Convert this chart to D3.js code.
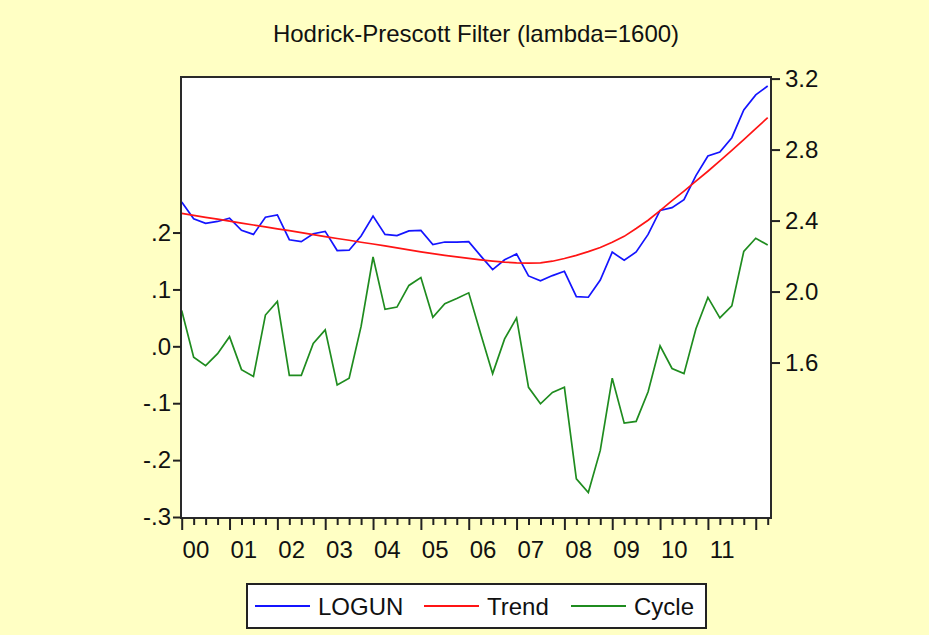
<!DOCTYPE html>
<html>
<head>
<meta charset="utf-8">
<script src="https://cdn.jsdelivr.net/npm/d3@7"></script>
<style>
  html, body { margin: 0; padding: 0; background: #FFFFC4; }
  svg { display: block; }
  text { font-family: Arial, "Liberation Sans", sans-serif; fill: #111; }
</style>
</head>
<body>
<svg id="chart" width="929" height="635"></svg>
<script>
// Quarterly sample 2000Q1 .. 2012Q2
const periods = [];
for (let y = 2000; y <= 2012; y++) {
  for (let q = 1; q <= 4; q++) {
    if (y === 2012 && q > 2) break;
    periods.push(y + "Q" + q);
  }
}

const yearLabels = ["00","01","02","03","04","05","06","07","08","09","10","11"];

// log unemployment (right axis)
const logun = [
  2.504, 2.410, 2.384, 2.395, 2.414, 2.345, 2.322, 2.419, 2.432, 2.292,
  2.281, 2.326, 2.339, 2.231, 2.233, 2.313, 2.425, 2.322, 2.315, 2.342,
  2.345, 2.265, 2.279, 2.279, 2.281, 2.201, 2.124, 2.179, 2.212, 2.088,
  2.061, 2.090, 2.114, 1.971, 1.968, 2.065, 2.222, 2.176, 2.223, 2.322,
  2.457, 2.473, 2.518, 2.653, 2.764, 2.786, 2.867, 3.023, 3.108, 3.158
];

// HP trend (right axis)
const trend = [
  2.441, 2.429, 2.418, 2.408, 2.397, 2.386, 2.375, 2.364, 2.353, 2.343,
  2.332, 2.321, 2.310, 2.299, 2.289, 2.278, 2.268, 2.257, 2.246, 2.235,
  2.224, 2.214, 2.204, 2.195, 2.187, 2.179, 2.172, 2.166, 2.162, 2.160,
  2.162, 2.171, 2.186, 2.204, 2.225, 2.248, 2.278, 2.311, 2.355, 2.402,
  2.456, 2.512, 2.566, 2.622, 2.678, 2.736, 2.796, 2.856, 2.918, 2.980
];

// Cyclical component (left axis)
const cycle = [
  0.063, -0.019, -0.034, -0.013, 0.017, -0.041, -0.053, 0.055, 0.079, -0.051,
  -0.051, 0.005, 0.029, -0.068, -0.056, 0.035, 0.157, 0.065, 0.069, 0.107,
  0.121, 0.051, 0.075, 0.084, 0.094, 0.022, -0.048, 0.013, 0.050, -0.072,
  -0.101, -0.081, -0.072, -0.233, -0.257, -0.183, -0.056, -0.135, -0.132, -0.080,
  0.001, -0.039, -0.048, 0.031, 0.086, 0.050, 0.071, 0.167, 0.190, 0.178
];

const leftTicks = [0.2, 0.1, 0.0, -0.1, -0.2, -0.3];
const leftTickLabels = [".2", ".1", ".0", "-.1", "-.2", "-.3"];
const rightTicks = [1.6, 2.0, 2.4, 2.8, 3.2];
const rightTickLabels = ["1.6", "2.0", "2.4", "2.8", "3.2"];

const seriesNames = ["LOGUN", "Trend", "Cycle"];
const seriesColors = ["#1414ff", "#ff1414", "#1f8c1f"];

const svg = d3.select("#chart");
const box = { left: 181, right: 771, top: 77, bottom: 518 };
const FS = 24;

// background
svg.append("rect").attr("width", 929).attr("height", 635).attr("fill", "#FFFFC4");

// title
svg.append("text")
  .attr("x", (box.left + box.right) / 2)
  .attr("y", 42)
  .attr("text-anchor", "middle")
  .style("font-size", FS + "px")
  .text("Hodrick-Prescott Filter (lambda=1600)");

// plot area
svg.append("rect")
  .attr("x", box.left).attr("y", box.top)
  .attr("width", box.right - box.left).attr("height", box.bottom - box.top)
  .attr("fill", "#ffffff");

const x = d3.scaleLinear().domain([0, periods.length - 1]).range([181.7, 767.7]);
const yL = d3.scaleLinear().domain([-0.3, 0.4734]).range([517, 77]);
const yR = d3.scaleLinear().domain([0.724, 3.209]).range([518, 77]);

const plot = svg.append("g");
const lineR = d3.line().x((d, i) => x(i)).y(d => yR(d));
const lineL = d3.line().x((d, i) => x(i)).y(d => yL(d));

[[logun, lineR, 0], [trend, lineR, 1], [cycle, lineL, 2]].forEach(([data, gen, k]) => {
  plot.append("path")
    .datum(data)
    .attr("fill", "none")
    .attr("stroke", seriesColors[k])
    .attr("stroke-width", 1.7)
    .attr("stroke-linejoin", "miter")
    .attr("d", gen);
});

// frame
svg.append("rect")
  .attr("x", box.left).attr("y", box.top)
  .attr("width", box.right - box.left).attr("height", box.bottom - box.top)
  .attr("fill", "none").attr("stroke", "#2a2a2a").attr("stroke-width", 2);

function styleAxis(g) {
  g.select(".domain").remove();
  g.selectAll(".tick line").attr("stroke", "#222").attr("stroke-width", 2);
  g.selectAll(".tick text").style("font-size", FS + "px").attr("fill", "#111")
    .style("font-family", 'Arial, "Liberation Sans", sans-serif');
}

// left axis (cycle)
svg.append("g")
  .attr("transform", `translate(${box.left},0)`)
  .call(d3.axisLeft(yL).tickValues(leftTicks)
    .tickFormat((d, i) => leftTickLabels[i]).tickSize(8).tickPadding(2))
  .call(styleAxis);

// right axis (levels)
svg.append("g")
  .attr("transform", `translate(${box.right},0)`)
  .call(d3.axisRight(yR).tickValues(rightTicks)
    .tickFormat((d, i) => rightTickLabels[i]).tickSize(9).tickPadding(5))
  .call(styleAxis);

// bottom axis: quarterly minor ticks, yearly major ticks, year labels
const idx = d3.range(periods.length);
svg.append("g")
  .attr("transform", `translate(0,${box.bottom})`)
  .call(d3.axisBottom(x).tickValues(idx.filter(i => i % 4 !== 0))
    .tickFormat("").tickSize(7))
  .call(styleAxis);
svg.append("g")
  .attr("transform", `translate(0,${box.bottom})`)
  .call(d3.axisBottom(x).tickValues(idx.filter(i => i % 4 === 0))
    .tickFormat("").tickSize(12))
  .call(styleAxis);
svg.append("g")
  .attr("transform", `translate(0,${box.bottom})`)
  .call(d3.axisBottom(x).tickValues(yearLabels.map((d, k) => 4 * k + 1.15))
    .tickFormat((d, k) => yearLabels[k]).tickSize(0).tickPadding(23))
  .call(styleAxis);

// legend
const lg = svg.append("g");
lg.append("rect")
  .attr("x", 247).attr("y", 584).attr("width", 459).attr("height", 44)
  .attr("fill", "#ffffff").attr("stroke", "#222").attr("stroke-width", 2);
const legendX = [255, 424, 571];
seriesNames.forEach((name, k) => {
  lg.append("line")
    .attr("x1", legendX[k]).attr("x2", legendX[k] + 55)
    .attr("y1", 606).attr("y2", 606)
    .attr("stroke", seriesColors[k]).attr("stroke-width", 2);
  lg.append("text")
    .attr("x", legendX[k] + 63).attr("y", 614.5)
    .style("font-size", FS + "px")
    .text(name);
});
</script>
</body>
</html>
